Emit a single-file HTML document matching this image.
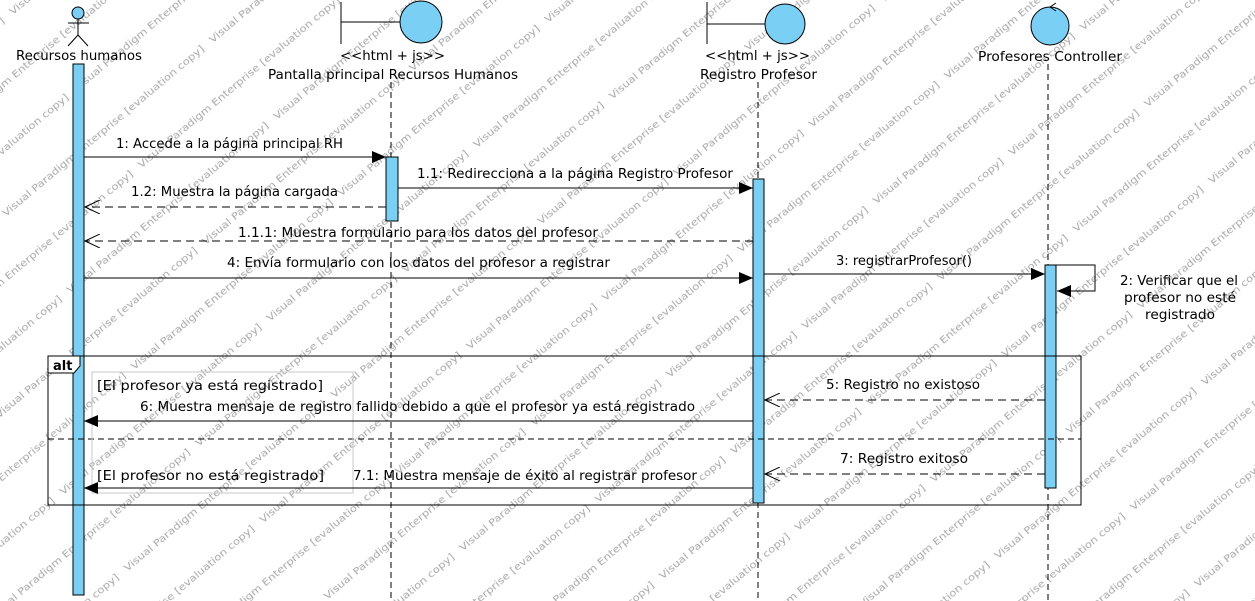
<!DOCTYPE html>
<html><head><meta charset="utf-8"><style>
html,body{margin:0;padding:0;background:#fff;}
svg{display:block;}
text{font-family:"DejaVu Sans","Liberation Sans",sans-serif;font-size:13px;fill:#000;}
.wm{font-size:10px;fill:#a8a8a8;font-family:"DejaVu Sans",sans-serif;}
</style></head><body>
<svg width="1255" height="601" viewBox="0 0 1255 601" xmlns="http://www.w3.org/2000/svg">
<defs>
<pattern id="wm" patternUnits="userSpaceOnUse" width="270" height="100" patternTransform="rotate(-40)">
<text class="wm" x="0" y="20" textLength="260" lengthAdjust="spacingAndGlyphs">Visual Paradigm Enterprise [evaluation copy]</text>
<text class="wm" x="135" y="70" textLength="260" lengthAdjust="spacingAndGlyphs">Visual Paradigm Enterprise [evaluation copy]</text>
<text class="wm" x="-135" y="70" textLength="260" lengthAdjust="spacingAndGlyphs">Visual Paradigm Enterprise [evaluation copy]</text>
</pattern>
<marker id="fa" markerWidth="14" markerHeight="12" refX="14" refY="6" orient="auto" markerUnits="userSpaceOnUse"><path d="M0,0 L14,6 L0,12 z" fill="#000"/></marker>
<marker id="oa" markerWidth="16" markerHeight="14" refX="15" refY="7" orient="auto" markerUnits="userSpaceOnUse"><path d="M0,0 L15,7 L0,14" fill="none" stroke="#000" stroke-width="1"/></marker>
</defs>
<rect width="1255" height="601" fill="#fff"/>
<rect width="1255" height="601" fill="url(#wm)"/>

<g stroke="#000" stroke-width="1" stroke-dasharray="6,4">
<line x1="391" y1="82" x2="391" y2="601"/>
<line x1="758" y1="82" x2="758" y2="601"/>
<line x1="1048" y1="64" x2="1048" y2="601"/>
</g>

<circle cx="78" cy="13" r="6" fill="#7acff5" stroke="#000"/>
<line x1="78" y1="19" x2="78" y2="35" stroke="#000"/>
<line x1="68" y1="23" x2="89" y2="23" stroke="#000"/>
<line x1="78" y1="35" x2="68" y2="46" stroke="#000"/>
<line x1="78" y1="35" x2="88" y2="46" stroke="#000"/>
<text x="16" y="60" textLength="126" lengthAdjust="spacingAndGlyphs">Recursos humanos</text>

<line x1="341" y1="2" x2="341" y2="44" stroke="#000"/>
<line x1="341" y1="22" x2="400" y2="22" stroke="#000"/>
<circle cx="421" cy="22" r="21" fill="#7acff5" stroke="#000"/>
<text x="340" y="60" textLength="105" lengthAdjust="spacingAndGlyphs">&lt;&lt;html + js&gt;&gt;</text>
<text x="268" y="79" textLength="250" lengthAdjust="spacingAndGlyphs">Pantalla principal Recursos Humanos</text>

<line x1="707" y1="2" x2="707" y2="44" stroke="#000"/>
<line x1="707" y1="24" x2="766" y2="24" stroke="#000"/>
<circle cx="785" cy="24" r="20" fill="#7acff5" stroke="#000"/>
<text x="705" y="60" textLength="105" lengthAdjust="spacingAndGlyphs">&lt;&lt;html + js&gt;&gt;</text>
<text x="700" y="79" textLength="117" lengthAdjust="spacingAndGlyphs">Registro Profesor</text>

<circle cx="1050" cy="26" r="19" fill="#7acff5" stroke="#000"/>
<path d="M1050,7 L1056,3 M1050,7 L1056,11" stroke="#000" fill="none"/>
<text x="978" y="61" textLength="144" lengthAdjust="spacingAndGlyphs">Profesores Controller</text>

<rect x="73" y="64" width="11" height="531" fill="#7acff5" stroke="#000"/>
<rect x="386" y="157" width="12" height="64" fill="#7acff5" stroke="#000"/>
<rect x="753" y="179" width="11" height="324" fill="#7acff5" stroke="#000"/>
<rect x="1045" y="265" width="11" height="223" fill="#7acff5" stroke="#000"/>

<line x1="84" y1="157" x2="386" y2="157" stroke="#000" marker-end="url(#fa)"/>
<text x="116" y="148" textLength="227" lengthAdjust="spacingAndGlyphs">1: Accede a la página principal RH</text>

<line x1="398" y1="188" x2="753" y2="188" stroke="#000" marker-end="url(#fa)"/>
<text x="417" y="178" textLength="316" lengthAdjust="spacingAndGlyphs">1.1: Redirecciona a la página Registro Profesor</text>

<line x1="386" y1="207" x2="85" y2="207" stroke="#000" stroke-dasharray="8,5" marker-end="url(#oa)"/>
<text x="131" y="196" textLength="207" lengthAdjust="spacingAndGlyphs">1.2: Muestra la página cargada</text>

<line x1="753" y1="241" x2="85" y2="241" stroke="#000" stroke-dasharray="8,5" marker-end="url(#oa)"/>
<text x="238" y="237" textLength="360" lengthAdjust="spacingAndGlyphs">1.1.1: Muestra formulario para los datos del profesor</text>

<line x1="84" y1="278" x2="753" y2="278" stroke="#000" marker-end="url(#fa)"/>
<text x="227" y="267" textLength="383" lengthAdjust="spacingAndGlyphs">4: Envía formulario con los datos del profesor a registrar</text>

<line x1="764" y1="274" x2="1045" y2="274" stroke="#000" marker-end="url(#fa)"/>
<text x="836" y="265" textLength="136" lengthAdjust="spacingAndGlyphs">3: registrarProfesor()</text>

<path d="M1056,265 L1095,265 L1095,291 L1057,291" fill="none" stroke="#000" marker-end="url(#fa)"/>
<text x="1120" y="285" textLength="118" lengthAdjust="spacingAndGlyphs">2: Verificar que el</text>
<text x="1124" y="302" textLength="112" lengthAdjust="spacingAndGlyphs">profesor no esté</text>
<text x="1145" y="319" textLength="70" lengthAdjust="spacingAndGlyphs">registrado</text>

<rect x="48" y="356" width="1033" height="149" fill="none" stroke="#000"/>
<path d="M48,356 L80,356 L80,366 L74,373 L48,373 Z" fill="#fff" stroke="#000"/>
<text x="53" y="370" style="font-weight:bold">alt</text>
<line x1="48" y1="439" x2="1081" y2="439" stroke="#000" stroke-dasharray="6,4"/>
<rect x="92" y="372" width="261" height="121" fill="none" stroke="#c8c8c8"/>
<text x="97" y="390" textLength="226" lengthAdjust="spacingAndGlyphs">[El profesor ya está registrado]</text>
<text x="97" y="480" textLength="227" lengthAdjust="spacingAndGlyphs">[El profesor no está registrado]</text>

<line x1="1045" y1="400" x2="765" y2="400" stroke="#000" stroke-dasharray="8,5" marker-end="url(#oa)"/>
<text x="826" y="389" textLength="154" lengthAdjust="spacingAndGlyphs">5: Registro no existoso</text>

<line x1="753" y1="421" x2="84" y2="421" stroke="#000" marker-end="url(#fa)"/>
<text x="140" y="411" textLength="555" lengthAdjust="spacingAndGlyphs">6: Muestra mensaje de registro fallido debido a que el profesor ya está registrado</text>

<line x1="1045" y1="474" x2="765" y2="474" stroke="#000" stroke-dasharray="8,5" marker-end="url(#oa)"/>
<text x="840" y="463" textLength="128" lengthAdjust="spacingAndGlyphs">7: Registro exitoso</text>

<line x1="753" y1="488" x2="84" y2="488" stroke="#000" marker-end="url(#fa)"/>
<text x="353" y="480" textLength="344" lengthAdjust="spacingAndGlyphs">7.1: Muestra mensaje de éxito al registrar profesor</text>
</svg>
</body></html>
